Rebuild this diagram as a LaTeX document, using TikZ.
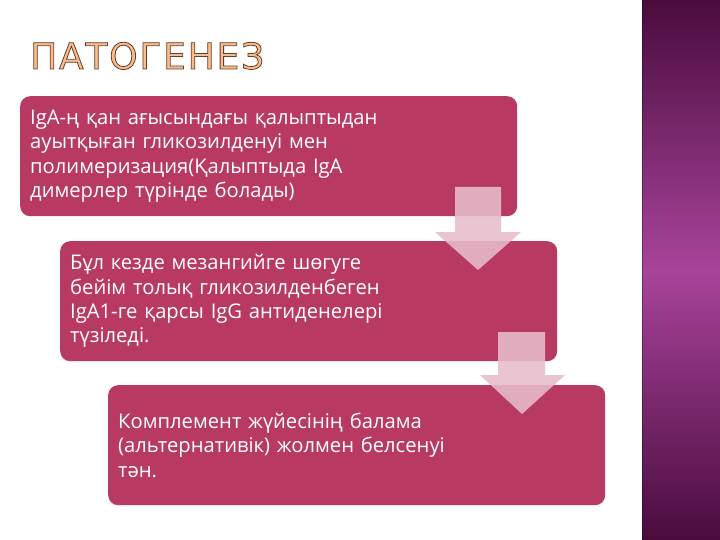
\documentclass[tikz,border=0pt]{standalone}
\usepackage{fontspec}
\setmainfont{Open Sans}
\newfontfamily\titlefont[LetterSpace=5]{DejaVu Sans}
\usetikzlibrary{calc}
\definecolor{boxred}{HTML}{B83A62}
\definecolor{arrowpink}{HTML}{E6BCCB}
\definecolor{banddark}{HTML}{4A0C3E}
\definecolor{bandmid}{HTML}{A8449A}
\definecolor{titlefill}{HTML}{F5BE8C}
\definecolor{titleline}{HTML}{6A3A2A}
\newcommand{\outlinetext}[1]{\special{pdf:code q 2 Tr 0.8 w 0.42 0.23 0.16 RG}#1\special{pdf:code Q}}
\begin{document}
\begin{tikzpicture}[x=1pt,y=-1pt,
  stepbox/.style={draw=none, fill=boxred, rounded corners=10pt, minimum width=497pt,
    minimum height=120pt, text width=477pt, inner xsep=10pt, inner ysep=0pt, align=left,
    anchor=north west, text=white, font=\fontsize{20.2}{24.3}\selectfont},
  blockarrow/.style={fill=arrowpink, fill opacity=0.88, draw=none},
  titlestyle/.style={anchor=base west, inner sep=0pt, font=\titlefont\fontsize{36}{40}\selectfont}]
\useasboundingbox (0,0) rectangle (720,540);
\fill[white] (0,0) rectangle (720,540);
% right band
\shade[top color=banddark, bottom color=banddark, middle color=bandmid] (642,0) rectangle (720,540);
\draw[line width=1.5pt, black, opacity=0.35] (642.5,0) -- (642.5,540);
% title
\node[titlestyle, text=titlefill] (title) at (30,69) {\outlinetext{ПАТОГЕНЕЗ}};
% boxes
\node[stepbox] (box1) at (20,96) {IgA-ң қан ағысындағы қалыптыдан\\ ауытқыған гликозилденуі мен\\ полимеризация(Қалыптыда IgA\\ димерлер түрінде болады)};
\node[stepbox] (box2) at (60,241) {Бұл кезде мезангийге шөгуге\\ бейім толық гликозилденбеген\\ IgA1-ге қарсы IgG антиденелері\\ түзіледі.};
\node[stepbox] (box3) at (108,385) {Комплемент жүйесінің балама\\ (альтернативік) жолмен белсенуі\\ тән.};
% block arrows
\fill[blockarrow] (455,187) -- (501,187) -- (501,232) -- (521,232) -- (478,270) -- (435,232) -- (455,232) -- cycle;
\fill[blockarrow] (498,332) -- (545,332) -- (545,375) -- (565,375) -- (522,414) -- (480,375) -- (498,375) -- cycle;
\end{tikzpicture}
\end{document}
